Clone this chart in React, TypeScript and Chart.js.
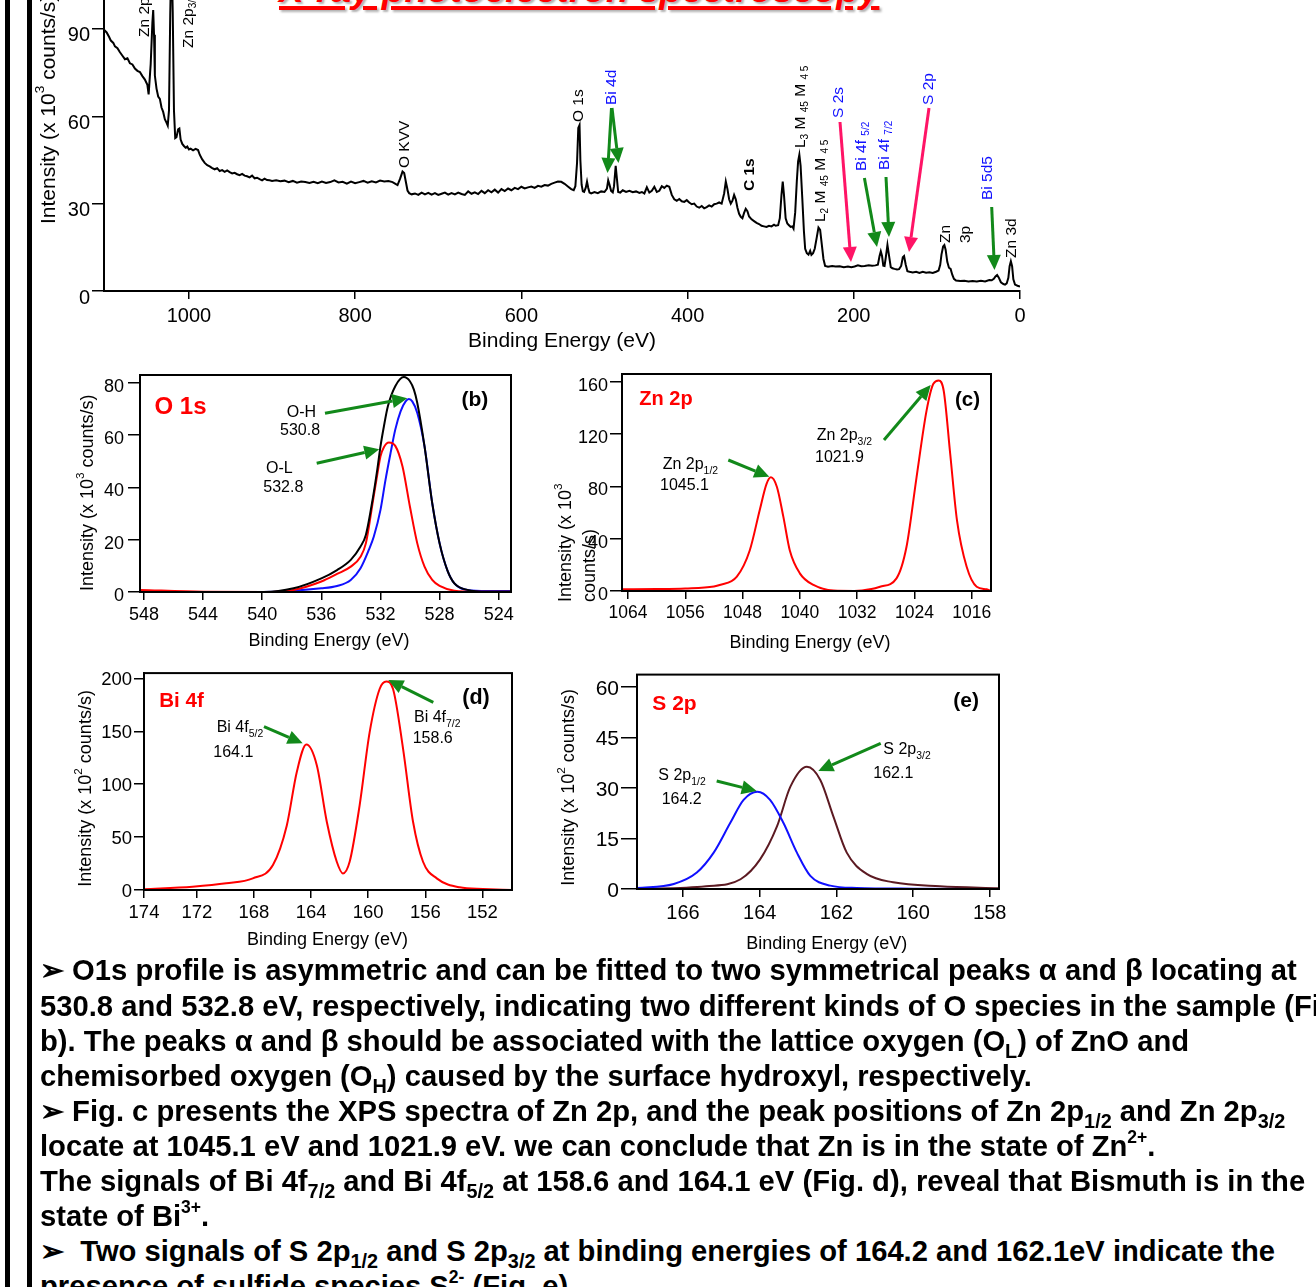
import React, { useEffect, useRef } from 'react';
import { Chart, registerables } from 'chart.js';

Chart.register(...registerables);

const FONT = "'Liberation Sans', Arial, Helvetica, sans-serif";

// ================= DATA =================
// (a) survey spectrum: [binding energy eV, intensity x10^3 counts/s]
const SURVEY: [number, number][] = [
  [1102.2, 89.7], [1099, 88.8], [1096, 87.2], [1094, 86.0], [1091, 85.2], [1089, 84.0], [1086, 83.4], [1083, 82.0],
  [1080, 80.8], [1077, 79.6], [1074, 79.9], [1071, 78.2], [1068, 77.8], [1065, 76.4], [1062, 75.6], [1059, 75.2],
  [1056, 73.8], [1053, 72.6], [1050, 70.8], [1048.5, 67.5], [1046, 78], [1044, 92], [1043, 96.5], [1042, 88],
  [1041, 74], [1039, 69.5], [1037, 66.8], [1035, 66.0], [1033, 63], [1031, 61.5], [1029, 59.0], [1027, 57.8],
  [1025.5, 56.8], [1024, 62], [1022.5, 95], [1021, 118], [1019.5, 96], [1018, 62], [1016.5, 52.5], [1015, 52.8],
  [1013, 55.5], [1011.5, 55.8], [1010, 52], [1008, 50.5], [1006, 49.8], [1004, 49.2], [1002, 49.6], [1000, 48.6],
  [998, 48.9], [995, 48.3], [992, 48.8], [989, 48.4], [987, 46.8], [984, 45.2], [981, 44.0], [978, 43.2],
  [975, 42.8], [972, 42.2], [969, 41.8], [966, 42.2], [963, 41.2], [960, 41.5], [957, 40.9], [954, 41.4],
  [951, 40.8], [948, 40.4], [945, 40.6], [942, 40.1], [939, 39.8], [936, 40.2], [933, 39.6], [930, 39.4],
  [927, 39.0], [924, 39.6], [921, 38.7], [918, 38.9], [915, 38.4], [912, 38.0], [909, 38.6], [906, 38.1],
  [903, 38.0], [900, 37.8], [895, 38.0], [890, 37.7], [885, 37.9], [880, 37.4], [875, 37.8], [870, 37.2],
  [865, 37.6], [860, 37.4], [855, 37.1], [850, 37.5], [845, 37.0], [840, 37.6], [835, 37.1], [830, 37.4],
  [825, 38.0], [820, 37.3], [815, 37.5], [810, 36.9], [805, 37.6], [800, 37.0], [795, 37.4], [790, 37.8],
  [785, 37.2], [780, 37.7], [775, 37.3], [770, 37.9], [765, 37.6], [760, 37.8], [755, 37.4], [752, 36.9],
  [749, 36.4], [746, 38.5], [743, 41.0], [741, 40.5], [739, 37.5], [737, 34.5], [735, 33.6], [732, 33.2],
  [728, 33.5], [724, 33.0], [720, 33.8], [716, 33.2], [712, 33.7], [708, 33.1], [704, 33.6], [700, 33.0],
  [696, 33.4], [692, 33.8], [688, 33.1], [684, 33.6], [680, 33.2], [676, 33.8], [672, 33.3], [668, 33.0],
  [664, 34.2], [660, 33.4], [656, 33.9], [652, 33.3], [648, 34.4], [644, 33.6], [640, 34.6], [636, 33.9],
  [632, 34.8], [628, 33.8], [624, 35.0], [620, 34.3], [616, 35.2], [612, 34.6], [608, 35.4], [604, 35.0],
  [600, 35.8], [596, 35.2], [592, 35.6], [588, 35.9], [584, 35.4], [580, 36.1], [576, 35.8], [572, 36.4],
  [568, 36.2], [564, 36.8], [560, 37.2], [556, 37.6], [552, 37.5], [548, 36.8], [544, 35.9], [540, 35.0],
  [537, 34.6], [535, 36.0], [533, 44], [531.5, 56], [530, 57], [529, 45], [527.5, 36.5], [526, 34.2],
  [524.5, 34.0], [522.5, 35.5], [521, 37.6], [519.5, 35.4], [518, 33.8], [516, 33.5], [512, 34.0], [508, 33.6],
  [504, 34.2], [500, 34.0], [497, 35.2], [495.5, 38.0], [494, 36.6], [492, 34.4], [490, 33.9], [488.5, 36.0],
  [486.5, 43.0], [485, 38.5], [483.5, 34.0], [481, 33.8], [478, 34.6], [474, 34.0], [470, 34.4], [466, 33.9],
  [462, 34.2], [458, 33.7], [455, 34.0], [452, 33.5], [449, 35.6], [446, 33.8], [443, 34.4], [440, 35.8],
  [437, 34.0], [434, 34.4], [431, 36.0], [428, 35.4], [425, 36.2], [422, 35.8], [419, 33.0], [416, 31.5],
  [413, 31.0], [410, 31.6], [407, 30.8], [404, 30.6], [401, 31.2], [398, 30.4], [395, 29.8], [392, 30.0],
  [389, 29.0], [386, 28.6], [383, 29.2], [380, 28.4], [377, 28.8], [374, 29.4], [371, 29.0], [368, 29.8],
  [365, 30.0], [362, 30.4], [359, 30.0], [356, 33.5], [354, 37.6], [352, 35.0], [350, 31.5], [348, 30.0],
  [346, 31.0], [344, 33.0], [342, 31.5], [340, 28.6], [338, 26.5], [336, 25.5], [334, 25.0], [332, 26.8],
  [330, 28.2], [328, 27.4], [326, 25.6], [323, 24.6], [320, 24.0], [317, 23.4], [314, 23.0], [311, 22.4],
  [308, 22.2], [305, 22.0], [302, 22.4], [299, 22.2], [296, 22.8], [294, 22.4], [291, 22.6], [289, 25.0],
  [287, 33.0], [285.5, 37.6], [284, 33.0], [282, 25.0], [280, 23.2], [278, 22.6], [276, 22.0], [274, 22.2],
  [272.5, 21.4], [270.5, 27.0], [268.5, 38.0], [267, 44.5], [265.5, 46.8], [264, 43.0], [262, 32.0], [260, 20.5],
  [258.5, 14.5], [256.5, 13.0], [254.5, 12.5], [252.5, 13.8], [251, 12.4], [249, 13.0], [247, 14.5], [244.5, 18.5],
  [242.5, 21.8], [240.5, 21.0], [238.5, 16.0], [236.5, 11.0], [234.5, 8.6], [231, 8.3], [226, 8.6], [222, 8.4],
  [217, 8.5], [212, 8.2], [207, 8.4], [203, 8.2], [199, 8.4], [195, 8.8], [191, 8.5], [187, 8.6],
  [182, 8.8], [178, 8.7], [174, 8.8], [171, 9.0], [169, 12.0], [167.5, 13.6], [166, 12.0], [164.5, 8.7],
  [163, 8.6], [161.5, 11.5], [159.5, 15.8], [157.5, 12.0], [155.5, 8.2], [153.5, 7.8], [151, 7.6], [148, 7.4],
  [145.5, 7.5], [143, 8.6], [141, 11.6], [139.5, 12.0], [137.5, 9.0], [135.5, 6.8], [133, 6.6], [129, 6.4],
  [125, 6.6], [121, 6.2], [117, 6.6], [113, 6.3], [109, 6.4], [105, 6.2], [101, 6.6], [98, 7.0],
  [96, 9.0], [94.5, 12.5], [92.5, 15.3], [91, 15.8], [89.5, 14.2], [87.5, 10.0], [85.5, 8.0], [83.5, 7.6],
  [81.5, 5.6], [79.5, 4.2], [77, 3.6], [72, 3.4], [67, 3.5], [62, 3.3], [57, 3.4], [52, 3.3],
  [47, 3.5], [42, 3.3], [37, 3.8], [34, 3.7], [31.5, 4.2], [29.5, 5.0], [27.5, 5.5], [25.5, 4.6],
  [23, 3.0], [20, 2.4], [18, 2.2], [16, 2.6], [14, 4.5], [12.5, 8.5], [11, 10.2], [9.5, 8.5],
  [8, 4.0], [6, 2.2], [3, 1.8], [0, 1.5],
];
const SURVEY_X_TICKS = [1000, 800, 600, 400, 200, 0];
const SURVEY_Y_TICKS = [0, 30, 60, 90];

// (b) O 1s
const O1S_TOTAL: [number, number][] = [
  [548.27, 0], [543.98, 0], [539.91, 0], [537.88, 1.4], [536.0, 5.2], [534.94, 8.4], [534.01, 12.3], [533.35, 17.4],
  [532.99, 21.8], [532.5, 36.5], [532.22, 46.7], [532.0, 55.7], [531.77, 63.3], [531.5, 71.0], [531.0, 78.7],
  [530.42, 82.2], [530.01, 80.6], [529.74, 77.4], [529.51, 72.3], [529.02, 55.7], [528.5, 34.0], [528.0, 18.6],
  [527.48, 8.4], [527.0, 3.3], [526.12, 0.8], [524.77, 0.1], [523.17, 0.1],
];
const O1S_OL: [number, number][] = [
  [548.27, 0.8], [543.98, 0.1], [539.91, 0], [537.88, 0.8], [536.0, 4.0], [534.94, 6.9], [534.01, 9.7], [533.35, 13.5],
  [532.99, 18.6], [532.5, 35.2], [532.22, 44.8], [532.0, 51.9], [531.77, 55.4], [531.43, 57.2], [531.0, 55.9],
  [530.51, 48.0], [530.01, 32.7], [529.51, 18.6], [529.02, 9.7], [528.5, 4.6], [528.0, 2.3], [527.0, 0.5],
  [525.44, 0.1], [523.17, 0.1],
];
const O1S_OH: [number, number][] = [
  [548.27, 0], [539.91, 0], [536.0, 1.4], [534.94, 2.3], [534.01, 4.6], [533.35, 9.1], [532.79, 16.1], [532.45, 21.2],
  [532.0, 31.4], [531.66, 42.9], [531.32, 53.1], [531.0, 62.1], [530.64, 69.1], [530.3, 72.9], [530.08, 73.8],
  [529.85, 72.9], [529.51, 68.5], [529.02, 55.7], [528.5, 34.0], [528.0, 18.6], [527.48, 8.4], [527.0, 3.3],
  [526.12, 0.8], [524.77, 0.4], [523.17, 0.4],
];
const O1S_X_TICKS = [548, 544, 540, 536, 532, 528, 524];
const O1S_Y_TICKS = [0, 20, 40, 60, 80];

// (c) Zn 2p
const ZN2P: [number, number][] = [
  [1064.84, 1.3], [1060, 1.5], [1056, 2.0], [1052, 3.5], [1051.2, 4.6], [1048.8, 11], [1047, 31], [1045.6, 62],
  [1044.65, 82], [1044.04, 87], [1043.2, 79.6], [1042.3, 56.7], [1041.4, 31], [1040, 13.5], [1038.1, 4.6],
  [1035.3, 0.3], [1032.4, 0], [1030, 1.5], [1028.8, 3.3], [1026.5, 9.7], [1025.1, 33.8], [1023.7, 87],
  [1022.3, 138], [1021.35, 158.5], [1020.6, 161], [1019.9, 153], [1019, 105], [1018.05, 54], [1016.7, 18.5],
  [1015.3, 3.3], [1013.9, 1.3], [1013.3, 0],
];
const ZN_X_TICKS = [1064, 1056, 1048, 1040, 1032, 1024, 1016];
const ZN_Y_TICKS = [0, 40, 80, 120, 160];

// (d) Bi 4f
const BI4F: [number, number][] = [
  [175.7, 0.7], [172.3, 3.1], [169.94, 6.3], [168.08, 11], [166.67, 23.6], [165.7, 61], [165.0, 111.6],
  [164.33, 137.5], [163.6, 118], [162.9, 64.5], [162.2, 26.7], [161.77, 15.7], [161.3, 26.7], [160.6, 80],
  [159.9, 149], [159.2, 190], [158.73, 197], [158.26, 190], [157.56, 133.7], [156.86, 64.5], [156.16, 26.7],
  [155.2, 11], [153.6, 2.5], [151.96, 1], [149.93, 0],
];
const BI_X_TICKS = [175.7, 172, 168, 164, 160, 156, 152];
const BI_X_LABELS = ['174', '172', '168', '164', '160', '156', '152'];
const BI_Y_TICKS = [0, 50, 100, 150, 200];

// (e) S 2p
const S2P_12: [number, number][] = [
  [167.2, 0.3], [166.24, 1.5], [165.64, 4.9], [165.2, 10.8], [164.77, 19.6], [164.42, 26.5], [164.06, 28.9],
  [163.73, 26.5], [163.38, 19.6], [163.03, 10.8], [162.68, 3.9], [162.16, 1.0], [161.47, 0.3], [160, 0.1], [157.76, 0],
];
const S2P_32: [number, number][] = [
  [167.2, 0], [165.4, 0.8], [164.5, 2.9], [163.99, 8.8], [163.55, 18.6], [163.2, 30.4], [162.77, 36.3],
  [162.42, 32.4], [162.08, 21.6], [161.73, 10.8], [161.2, 4.4], [160.52, 2.0], [159.3, 0.8], [157.76, 0.2],
];
const S_X_TICKS = [166, 164, 162, 160, 158];
const S_Y_TICKS = [0, 15, 30, 45, 60];

// ================= DRAW HELPERS =================
type Seg = { t: string; s?: 'sub' | 'sup' };
type TextItem = {
  x: number; y: number; segs: string | Seg[]; size: number; color?: string; bold?: boolean;
  rot?: boolean; align?: 'left' | 'center'; baseline?: CanvasTextBaseline;
};
type Arrow = { x1: number; y1: number; x2: number; y2: number; color: string; w?: number; hl?: number; hw?: number };
type Box = { cx: number; cy: number; cw: number; ch: number; L: number; T: number; R: number; B: number };
type Series = { points: [number, number][]; color: string; width?: number; smooth?: boolean };
type AxisSpec = {
  min: number; max: number; ticks: number[]; labels?: string[]; font: number; tickLen: number; pad: number;
  reverse?: boolean; labelOffset?: number;
};
type Panel = { box: Box; series: Series[]; x: AxisSpec; y: AxisSpec; frame: boolean; texts: TextItem[]; arrows: Arrow[] };

const GREEN = '#12891a';
const PINK = '#ff1466';
const BLUE = '#1010ff';
const RED = '#ff0000';

function drawRich(ctx: CanvasRenderingContext2D, it: TextItem, ox: number, oy: number) {
  const segs: Seg[] = typeof it.segs === 'string' ? [{ t: it.segs }] : it.segs;
  const fontFor = (s?: string) => `${it.bold ? 'bold ' : ''}${s ? it.size * 0.65 : it.size}px ${FONT}`;
  let total = 0;
  for (const sg of segs) { ctx.font = fontFor(sg.s); total += ctx.measureText(sg.t).width; }
  ctx.save();
  ctx.translate(it.x - ox, it.y - oy);
  if (it.rot) ctx.rotate(-Math.PI / 2);
  ctx.fillStyle = it.color || '#000';
  ctx.textBaseline = it.baseline || 'alphabetic';
  ctx.textAlign = 'left';
  let x = it.align === 'center' ? -total / 2 : 0;
  for (const sg of segs) {
    ctx.font = fontFor(sg.s);
    const dy = sg.s === 'sub' ? it.size * 0.3 : sg.s === 'sup' ? -it.size * 0.4 : 0;
    ctx.fillText(sg.t, x, dy);
    x += ctx.measureText(sg.t).width;
  }
  ctx.restore();
}

function drawArrow(ctx: CanvasRenderingContext2D, a: Arrow, ox: number, oy: number) {
  const x1 = a.x1 - ox, y1 = a.y1 - oy, x2 = a.x2 - ox, y2 = a.y2 - oy;
  const ang = Math.atan2(y2 - y1, x2 - x1);
  const hl = a.hl ?? 15, hw = a.hw ?? 7;
  const bx = x2 - hl * Math.cos(ang), by = y2 - hl * Math.sin(ang);
  ctx.save();
  ctx.strokeStyle = a.color;
  ctx.fillStyle = a.color;
  ctx.lineWidth = a.w ?? 3;
  ctx.beginPath(); ctx.moveTo(x1, y1); ctx.lineTo(bx, by); ctx.stroke();
  ctx.beginPath();
  ctx.moveTo(x2, y2);
  ctx.lineTo(bx + hw * Math.sin(ang), by - hw * Math.cos(ang));
  ctx.lineTo(bx - hw * Math.sin(ang), by + hw * Math.cos(ang));
  ctx.closePath(); ctx.fill();
  ctx.restore();
}

function axisOpts(a: AxisSpec, horizontal: boolean, size: number) {
  return {
    type: 'linear',
    position: horizontal ? 'bottom' : 'left',
    min: a.min,
    max: a.max,
    reverse: !!a.reverse,
    afterBuildTicks: (ax: any) => { ax.ticks = a.ticks.map((v) => ({ value: v })); },
    afterFit: (ax: any) => { if (horizontal) ax.height = size; else ax.width = size; },
    ticks: {
      autoSkip: false, maxRotation: 0, minRotation: 0, color: '#000', padding: a.pad,
      labelOffset: a.labelOffset ?? 0,
      font: { family: FONT, size: a.font },
      callback: (_v: any, i: number) => (a.labels ? a.labels[i] : String(a.ticks[i])),
    },
    grid: { display: true, drawOnChartArea: false, drawTicks: true, tickLength: a.tickLen, color: '#000', lineWidth: 1.5 },
    border: { display: true, color: '#000', width: 2 },
    title: { display: false },
  };
}

function buildConfig(p: Panel): any {
  const { box } = p;
  const yW = box.L - box.cx;
  const xH = box.cy + box.ch - box.B;
  return {
    type: 'line',
    data: {
      datasets: p.series.map((s) => ({
        data: s.points.map(([x, y]) => ({ x, y })),
        borderColor: s.color,
        borderWidth: s.width ?? 2,
        pointRadius: 0,
        fill: false,
        tension: 0,
        cubicInterpolationMode: s.smooth ? 'monotone' : 'default',
      })),
    },
    options: {
      animation: false,
      responsive: false,
      devicePixelRatio: 1,
      events: [],
      layout: { autoPadding: false, padding: { left: 0, top: box.T - box.cy, right: box.cx + box.cw - box.R, bottom: 0 } },
      plugins: { legend: { display: false }, tooltip: { enabled: false }, title: { display: false } },
      scales: { x: axisOpts(p.x, true, xH), y: axisOpts(p.y, false, yW) },
    },
    plugins: [
      {
        id: 'deco',
        afterDraw(chart: any) {
          const ctx: CanvasRenderingContext2D = chart.ctx;
          const ca = chart.chartArea;
          if (p.frame) {
            ctx.save();
            ctx.strokeStyle = '#000';
            ctx.lineWidth = 2;
            ctx.strokeRect(ca.left, ca.top, ca.right - ca.left, ca.bottom - ca.top);
            ctx.restore();
          }
          for (const a of p.arrows) drawArrow(ctx, a, box.cx, box.cy);
          for (const t of p.texts) drawRich(ctx, t, box.cx, box.cy);
        },
      },
    ],
  };
}

function PanelChart({ panel }: { panel: Panel }) {
  const ref = useRef<HTMLCanvasElement>(null);
  useEffect(() => {
    const chart = new Chart(ref.current as HTMLCanvasElement, buildConfig(panel));
    return () => chart.destroy();
  }, []);
  const b = panel.box;
  return (
    <canvas
      ref={ref}
      width={b.cw}
      height={b.ch}
      style={{ position: 'absolute', left: b.cx, top: b.cy, width: b.cw, height: b.ch }}
    />
  );
}

// ================= PANELS =================
const rotLabel = (x: number, y: number, segs: string | Seg[], color = '#000', bold = false): TextItem =>
  ({ x, y, segs, size: 15.5, color, bold, rot: true, baseline: 'middle' });
const LMM = (n: string): Seg[] => [{ t: 'L' }, { t: n, s: 'sub' }, { t: ' M ' }, { t: '45', s: 'sub' }, { t: ' M ' }, { t: '4 5', s: 'sub' }];
const yTitle = (x: number, y: number, exp: string, size = 18): TextItem =>
  ({ x, y, segs: [{ t: 'Intensity (x 10' }, { t: exp, s: 'sup' }, { t: ' counts/s)' }], size, rot: true, baseline: 'middle' });
const xTitle = (x: number, y: number, size = 18): TextItem => ({ x, y, segs: 'Binding Energy (eV)', size, align: 'center' });
const lbl = (x: number, y: number, segs: string | Seg[]): TextItem => ({ x, y, segs, size: 16 });
const g = (x1: number, y1: number, x2: number, y2: number, color = GREEN): Arrow => ({ x1, y1, x2, y2, color, w: 3, hl: 15, hw: 7 });

const PANEL_A: Panel = {
  box: { cx: 0, cy: -90, cw: 1060, ch: 449, L: 104, T: -73, R: 1020, B: 291 },
  series: [{ points: SURVEY, color: '#000', width: 2 }],
  x: { min: 0, max: 1102.2, reverse: true, ticks: SURVEY_X_TICKS, font: 20, tickLen: 8, pad: 5 },
  y: { min: 0, max: 125, ticks: SURVEY_Y_TICKS, font: 20, tickLen: 12, pad: 2, labelOffset: 7 },
  frame: false,
  texts: [
    yTitle(49, 224, '3', 21),
    xTitle(562, 346.5, 21),
    rotLabel(145, 37, [{ t: 'Zn 2p' }, { t: '1/2', s: 'sub' }]),
    rotLabel(188.5, 48, [{ t: 'Zn 2p' }, { t: '3/2', s: 'sub' }]),
    rotLabel(405, 168, 'O KVV'),
    rotLabel(578.5, 122, 'O 1s'),
    rotLabel(612, 105, 'Bi 4d', BLUE),
    rotLabel(750, 191, 'C 1s', '#000', true),
    rotLabel(801, 148, LMM('3')),
    rotLabel(821, 222, LMM('2')),
    rotLabel(838.5, 118, 'S 2s', BLUE),
    rotLabel(862, 171, [{ t: 'Bi 4f ' }, { t: '5/2', s: 'sub' }], BLUE),
    rotLabel(885, 170, [{ t: 'Bi 4f ' }, { t: '7/2', s: 'sub' }], BLUE),
    rotLabel(928.5, 105, 'S 2p', BLUE),
    rotLabel(945.5, 243, 'Zn'),
    rotLabel(966, 243, '3p'),
    rotLabel(988, 200, 'Bi 5d5', BLUE),
    rotLabel(1012, 258, 'Zn 3d'),
  ],
  arrows: [
    g(611.5, 108, 607.5, 173),
    g(612, 108, 618.5, 163),
    g(840, 122, 851, 262, PINK),
    g(864.4, 178, 877, 247),
    g(886, 177, 889, 237),
    g(929, 108, 909, 252, PINK),
    g(991.7, 207, 994.5, 270),
  ],
};

const PANEL_B: Panel = {
  box: { cx: 60, cy: 360, cw: 475, ch: 295, L: 140, T: 375, R: 511, B: 592 },
  series: [
    { points: O1S_TOTAL, color: '#000', smooth: true },
    { points: O1S_OL, color: RED, smooth: true },
    { points: O1S_OH, color: BLUE, smooth: true },
  ],
  x: { min: 523.17, max: 548.27, reverse: true, ticks: O1S_X_TICKS, font: 18, tickLen: 8, pad: 4 },
  y: { min: 0, max: 83, ticks: O1S_Y_TICKS, font: 18, tickLen: 12, pad: 4, labelOffset: 4 },
  frame: true,
  texts: [
    { x: 154.5, y: 414, segs: 'O 1s', size: 24, bold: true, color: RED },
    { x: 461.5, y: 406, segs: '(b)', size: 21, bold: true },
    lbl(286.7, 416.7, 'O-H'),
    lbl(280, 435, '530.8'),
    lbl(266, 472.7, 'O-L'),
    lbl(263.3, 491.7, '532.8'),
    yTitle(88, 591, '3'),
    xTitle(329, 646),
  ],
  arrows: [g(325, 413.3, 407.3, 398.3), g(316.7, 463.3, 379.3, 449.3)],
};

const PANEL_C: Panel = {
  box: { cx: 540, cy: 360, cw: 470, ch: 295, L: 622, T: 374, R: 991, B: 591 },
  series: [{ points: ZN2P, color: RED, smooth: true }],
  x: { min: 1013.3, max: 1064.84, reverse: true, ticks: ZN_X_TICKS, font: 17.5, tickLen: 8, pad: 4 },
  y: { min: 0, max: 166, ticks: ZN_Y_TICKS, font: 18, tickLen: 12, pad: 2, labelOffset: 4 },
  frame: true,
  texts: [
    { x: 639.3, y: 404.5, segs: 'Zn 2p', size: 20, bold: true, color: RED },
    { x: 955, y: 406, segs: '(c)', size: 20.5, bold: true },
    lbl(816.7, 440, [{ t: 'Zn 2p' }, { t: '3/2', s: 'sub' }]),
    lbl(815, 461.7, '1021.9'),
    lbl(662.7, 469.3, [{ t: 'Zn 2p' }, { t: '1/2', s: 'sub' }]),
    lbl(660, 490, '1045.1'),
    { x: 566, y: 602, segs: [{ t: 'Intensity (x 10' }, { t: '3', s: 'sup' }], size: 18, rot: true, baseline: 'middle' },
    { x: 590, y: 602, segs: 'counts/s)', size: 18, rot: true, baseline: 'middle' },
    xTitle(810, 648.3),
  ],
  arrows: [g(728.3, 460, 769.3, 476.7), g(884, 440, 930.7, 385)],
};

const PANEL_D: Panel = {
  box: { cx: 60, cy: 660, cw: 475, ch: 296, L: 144, T: 672, R: 512, B: 890 },
  series: [{ points: BI4F, color: RED, smooth: true }],
  x: { min: 149.93, max: 175.7, reverse: true, ticks: BI_X_TICKS, labels: BI_X_LABELS, font: 18.5, tickLen: 8, pad: 4 },
  y: { min: 0, max: 205, ticks: BI_Y_TICKS, font: 18.5, tickLen: 10, pad: 2, labelOffset: 2 },
  frame: true,
  texts: [
    { x: 159.3, y: 706.7, segs: 'Bi 4f', size: 20.5, bold: true, color: RED },
    { x: 462.3, y: 704, segs: '(d)', size: 21.5, bold: true },
    lbl(216.7, 731.7, [{ t: 'Bi 4f' }, { t: '5/2', s: 'sub' }]),
    lbl(213.3, 756.7, '164.1'),
    lbl(414, 721.7, [{ t: 'Bi 4f' }, { t: '7/2', s: 'sub' }]),
    lbl(412.7, 742.7, '158.6'),
    yTitle(86, 886.7, '2'),
    xTitle(327.5, 945),
  ],
  arrows: [g(264, 726.7, 302.7, 743.3), g(433.3, 702.3, 388.3, 680)],
};

const PANEL_E: Panel = {
  box: { cx: 540, cy: 660, cw: 475, ch: 298, L: 637, T: 672, R: 999, B: 889 },
  series: [
    { points: S2P_12, color: BLUE, smooth: true },
    { points: S2P_32, color: '#5c1a22', smooth: true },
  ],
  x: { min: 157.76, max: 167.2, reverse: true, ticks: S_X_TICKS, font: 20, tickLen: 8, pad: 4 },
  y: { min: 0, max: 63.7, ticks: S_Y_TICKS, font: 21, tickLen: 16, pad: 2, labelOffset: 2 },
  frame: true,
  texts: [
    { x: 652.3, y: 710, segs: 'S 2p', size: 21, bold: true, color: RED },
    { x: 953.3, y: 706.7, segs: '(e)', size: 21, bold: true },
    lbl(658.3, 780, [{ t: 'S 2p' }, { t: '1/2', s: 'sub' }]),
    lbl(661.7, 804.3, '164.2'),
    lbl(883.3, 754.3, [{ t: 'S 2p' }, { t: '3/2', s: 'sub' }]),
    lbl(873.3, 777.7, '162.1'),
    yTitle(569, 885.7, '2'),
    xTitle(826.7, 949),
  ],
  arrows: [g(716.7, 781, 756.7, 791), g(880.7, 743.3, 818.3, 771)],
};

// ================= TEXT BLOCK =================
const SUB: React.CSSProperties = { fontSize: '0.68em', verticalAlign: '-0.35em', lineHeight: 0 };
const SUP: React.CSSProperties = { fontSize: '0.6em', verticalAlign: '0.75em', lineHeight: 0 };
const Sb = ({ c }: { c: string }) => <span style={SUB}>{c}</span>;
const Sp = ({ c }: { c: string }) => <span style={SUP}>{c}</span>;

const LINES: React.ReactNode[] = [
  <>➢ O1s profile is asymmetric and can be fitted to two symmetrical peaks α and β locating at</>,
  <>530.8 and 532.8 eV, respectively, indicating two different kinds of O species in the sample (Fig.</>,
  <>b). The peaks α and β should be associated with the lattice oxygen (O<Sb c="L" />) of ZnO and</>,
  <>chemisorbed oxygen (O<Sb c="H" />) caused by the surface hydroxyl, respectively.</>,
  <>➢ Fig. c presents the XPS spectra of Zn 2p, and the peak positions of Zn 2p<Sb c="1/2" /> and Zn 2p<Sb c="3/2" /></>,
  <>locate at 1045.1 eV and 1021.9 eV. we can conclude that Zn is in the state of Zn<Sp c="2+" />.</>,
  <>The signals of Bi 4f<Sb c="7/2" /> and Bi 4f<Sb c="5/2" /> at 158.6 and 164.1 eV (Fig. d), reveal that Bismuth is in the</>,
  <>state of Bi<Sp c="3+" />.</>,
  <>➢{'\u00a0\u00a0'}Two signals of S 2p<Sb c="1/2" /> and S 2p<Sb c="3/2" /> at binding energies of 164.2 and 162.1eV indicate the</>,
  <>presence of sulfide species S<Sp c="2-" /> (Fig. e).</>,
];

export default function App() {
  return (
    <div
      style={{
        position: 'absolute', left: 0, top: 0, width: 1316, height: 1287, overflow: 'hidden',
        background: '#fff', fontFamily: FONT,
      }}
    >
      {/* left border bars */}
      <div style={{ position: 'absolute', left: 5, top: 0, width: 5, height: 1287, background: '#000' }} />
      <div style={{ position: 'absolute', left: 26.5, top: 0, width: 5, height: 1287, background: '#000' }} />

      {/* heading (cropped at top) */}
      <div
        style={{
          position: 'absolute', left: 279, top: -29.3, fontSize: 37, lineHeight: '37px', fontWeight: 'bold',
          fontStyle: 'italic', color: RED, whiteSpace: 'nowrap', textDecoration: 'underline',
          textDecorationThickness: '4px', textUnderlineOffset: '4px',
          textShadow: '2px 2px 2px rgba(0,0,0,0.3)',
        }}
      >
        X-ray photoelectron spectroscopy
      </div>

      <PanelChart panel={PANEL_A} />
      <PanelChart panel={PANEL_B} />
      <PanelChart panel={PANEL_C} />
      <PanelChart panel={PANEL_D} />
      <PanelChart panel={PANEL_E} />

      {LINES.map((ln, i) => (
        <div
          key={i}
          style={{
            position: 'absolute', left: 40, top: 981 + i * 35.1 - 24.55, fontSize: 29.2, lineHeight: '29px',
            fontWeight: 'bold', color: '#000', whiteSpace: 'nowrap',
          }}
        >
          {ln}
        </div>
      ))}
    </div>
  );
}
